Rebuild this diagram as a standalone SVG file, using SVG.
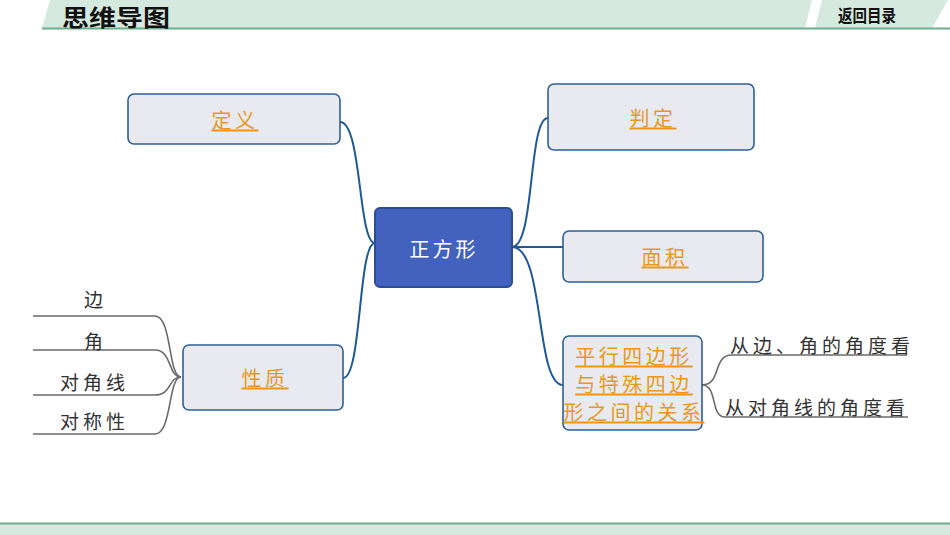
<svg xmlns="http://www.w3.org/2000/svg" width="950" height="535" viewBox="0 0 950 535">
<style>
.box{fill:#e9eaf0;stroke:#2e5f95;stroke-width:1.6}
.root{fill:#4262bd;stroke:#2c4c94;stroke-width:2}
.lbl{font-family:"Noto Sans CJK SC",sans-serif;font-size:20px;fill:#e8981e;text-anchor:middle;dominant-baseline:central;text-decoration:underline;letter-spacing:3.5px}
.txt{font-family:"Noto Sans CJK SC",sans-serif;font-size:19px;fill:#333;dominant-baseline:central;letter-spacing:4px}
.blue{fill:none;stroke:#1f5a96;stroke-width:2}
.gray{fill:none;stroke:#6a6a6a;stroke-width:1.6}
</style>
<g id="header">
<polygon points="50,0 812,0 805,28 42,28" fill="#d6e9df"/>
<polygon points="822,0 948,0 932,28 815,28" fill="#d6e9df"/>
<line x1="42" y1="28.5" x2="950" y2="28.5" stroke="#6fae8c" stroke-width="2"/>
<text x="62" y="25.5" font-family="Noto Sans CJK SC,sans-serif" font-size="23" font-weight="bold" fill="#111" textLength="108" lengthAdjust="spacingAndGlyphs">思维导图</text>
<text x="838" y="22" font-family="Noto Sans CJK SC,sans-serif" font-size="17" font-weight="bold" fill="#111" textLength="58" lengthAdjust="spacingAndGlyphs">返回目录</text>
</g>
<g id="footer">
<rect x="0" y="524" width="950" height="11" fill="#d6e9df"/>
<line x1="0" y1="523.5" x2="950" y2="523.5" stroke="#6fae8c" stroke-width="2"/>
</g>
<g id="connectors">
<path class="blue" d="M340,122 C362,122 358,243 375,243"/>
<path class="blue" d="M343,378 C362,378 358,243 375,243"/>
<path class="blue" d="M512,247 C535,247 528,118 548,118"/>
<path class="blue" d="M512,247 L563,247"/>
<path class="blue" d="M512,247 C545,247 535,385 563,385"/>
<path class="gray" d="M33,316 L155,316 C172,316 168,377 181,377"/>
<path class="gray" d="M33,350 L155,350 C172,350 168,377 181,377"/>
<path class="gray" d="M33,395 L155,395 C172,395 168,377 181,377"/>
<path class="gray" d="M33,434 L155,434 C172,434 168,377 181,377"/>
<path class="gray" d="M702,385 C722,385 712,355 732,355 L907,355"/>
<path class="gray" d="M702,385 C718,385 710,417 725,417 L908,417"/>
</g>
<g id="node-root">
<rect class="root" x="375" y="208" width="137" height="79" rx="5"/>
<text x="444" y="248" font-family="Noto Sans CJK SC,sans-serif" font-size="20" fill="#fff" text-anchor="middle" dominant-baseline="central" letter-spacing="3">正方形</text>
</g>
<g id="node-dingyi">
<rect class="box" x="128" y="94" width="212" height="50" rx="6"/>
<text class="lbl" x="235" y="119">定义</text>
</g>
<g id="node-panding">
<rect class="box" x="548" y="84" width="206" height="66" rx="6"/>
<text class="lbl" x="653" y="117">判定</text>
</g>
<g id="node-mianji">
<rect class="box" x="563" y="231" width="200" height="51" rx="6"/>
<text class="lbl" x="665" y="256">面积</text>
</g>
<g id="node-xingzhi">
<rect class="box" x="183" y="345" width="160" height="65" rx="6"/>
<text class="lbl" x="265" y="377">性质</text>
</g>
<g id="node-guanxi">
<rect class="box" x="563" y="336" width="139" height="94" rx="6"/>
<text class="lbl" x="634" y="355">平行四边形</text>
<text class="lbl" x="634" y="383">与特殊四边</text>
<text class="lbl" x="634" y="411" letter-spacing="1.5">形之间的关系</text>
</g>
<g id="leaf-bian"><text class="txt" x="84" y="298">边</text></g>
<g id="leaf-jiao"><text class="txt" x="84" y="340">角</text></g>
<g id="leaf-duijiaoxian"><text class="txt" x="60" y="381">对角线</text></g>
<g id="leaf-duichenxing"><text class="txt" x="60" y="420">对称性</text></g>
<g id="leaf-bianjiao"><text class="txt" x="730" y="344">从边、角的角度看</text></g>
<g id="leaf-duijiaoxian2"><text class="txt" x="725" y="406">从对角线的角度看</text></g>
</svg>
